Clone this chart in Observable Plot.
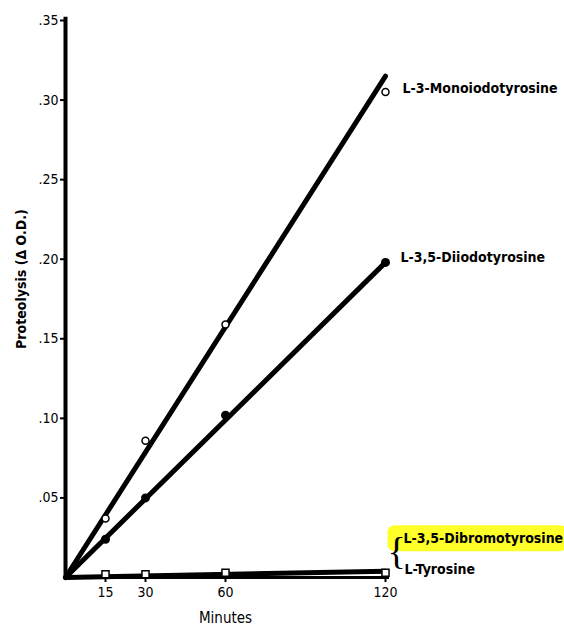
<!DOCTYPE html>
<html><head><meta charset="utf-8">
<script src="https://cdn.jsdelivr.net/npm/d3@7"></script>
<script src="https://cdn.jsdelivr.net/npm/@observablehq/plot@0.6"></script>
<style>body{margin:0;background:#fff;} svg{font-family:"DejaVu Sans Condensed","DejaVu Sans",sans-serif;}</style>
</head><body><div id="chart"></div>
<script>
const minutes = [15, 30, 60, 120];
const mono = [0.037, 0.086, 0.159, 0.305];
const diiodo = [0.024, 0.050, 0.102, 0.198];
const tyrosine = [0.002, 0.002, 0.003, 0.003];
// fitted lines: endpoints
const fitMinutes = [0, 120];
const monoFit = [0, 0.315];
const diiodoFit = [0, 0.198];
const tyrFit = [0, 0.004];
const yTicks = [0.05, 0.10, 0.15, 0.20, 0.25, 0.30, 0.35];
const xTicks = [15, 30, 60, 120];
const seriesLabels = ["L-3-Monoiodotyrosine", "L-3,5-Diiodotyrosine", "L-3,5-Dibromotyrosine", "L-Tyrosine"];

const pts = (ys) => minutes.map((m, i) => ({m, v: ys[i]}));
const fit = (ys) => fitMinutes.map((m, i) => ({m, v: ys[i]}));
const endPt = (ys, label) => [{m: 120, v: ys[3], label}];
const lab = {textAnchor: "start", fontSize: 14, fontWeight: 600, x: "m", y: "v", text: "label"};

const chart = Plot.plot({
  width: 564, height: 626,
  marginLeft: 65, marginRight: 179, marginTop: 20, marginBottom: 49,
  x: {domain: [0, 120]},
  y: {domain: [0, 0.35]},
  style: {fontFamily: '"DejaVu Sans Condensed", sans-serif', fontSize: "14px", color: "#000"},
  marks: [
    Plot.axisY({ticks: yTicks, tickFormat: d => d.toFixed(2).slice(1), tickSize: 5, strokeWidth: 2, fontSize: 14, label: null, tickPadding: 2}),
    Plot.axisX({ticks: xTicks, tickSize: 5, strokeWidth: 2, fontSize: 14, label: null, tickPadding: 5}),
    Plot.text(["Proteolysis (\u0394 O.D.)"], {x: 0, y: 0.1875, rotate: -90, dx: -44, fontSize: 14, fontWeight: 600}),
    Plot.text(["Minutes"], {x: 60, y: 0, dy: 41, fontSize: 15}),
    Plot.ruleX([0], {y1: 0, y2: 0.352, strokeWidth: 4}),
    Plot.ruleY([0], {x1: 0, x2: 121.5, strokeWidth: 3}),
    Plot.line(fit(monoFit), {x: "m", y: "v", strokeWidth: 5}),
    Plot.line(fit(diiodoFit), {x: "m", y: "v", strokeWidth: 5}),
    Plot.line(fit(tyrFit), {x: "m", y: "v", strokeWidth: 5}),
    Plot.dot(pts(mono), {x: "m", y: "v", r: 3.5, fill: "white", stroke: "black", strokeWidth: 1.5}),
    Plot.dot(pts(diiodo), {x: "m", y: "v", r: 4.5, fill: "black"}),
    Plot.dot(pts(tyrosine), {x: "m", y: "v", symbol: "square", r: 4, fill: "white", stroke: "black", strokeWidth: 1.5}),
    Plot.text(endPt(mono, seriesLabels[0]), {...lab, dx: 17, dy: -4}),
    Plot.text(endPt(diiodo, seriesLabels[1]), {...lab, dx: 15, dy: -5}),
    Plot.text(endPt(tyrosine, seriesLabels[2]), {...lab, dx: 18, dy: -34}),
    Plot.text(endPt(tyrosine, seriesLabels[3]), {...lab, dx: 19, dy: -3}),
    Plot.text(endPt(tyrosine, "{"), {x: "m", y: "v", text: "label", dx: 11, dy: -21, fontSize: 38, fontWeight: 200, fontFamily: "Liberation Serif"})
  ]
});
document.getElementById("chart").append(chart);
const svg = d3.select(chart);
const node = svg.selectAll("text").filter(function(){return this.textContent === seriesLabels[2];}).node();
if (node) {
  const bb = node.getBBox();
  const tr = node.getAttribute("transform");
  const rect = document.createElementNS("http://www.w3.org/2000/svg", "rect");
  rect.setAttribute("x", bb.x - 16); rect.setAttribute("y", bb.y - 5);
  rect.setAttribute("width", bb.width + 20); rect.setAttribute("height", bb.height + 10);
  rect.setAttribute("rx", 7); rect.setAttribute("fill", "#ffff2a");
  if (tr) rect.setAttribute("transform", tr);
  node.parentNode.insertBefore(rect, node);
  const brace = svg.selectAll("text").filter(function(){return this.textContent === "{";}).node();
  if (brace) { const bg = brace.closest("g[aria-label='text']") || brace.parentNode; bg.parentNode.appendChild(bg); }
}
</script></body></html>
